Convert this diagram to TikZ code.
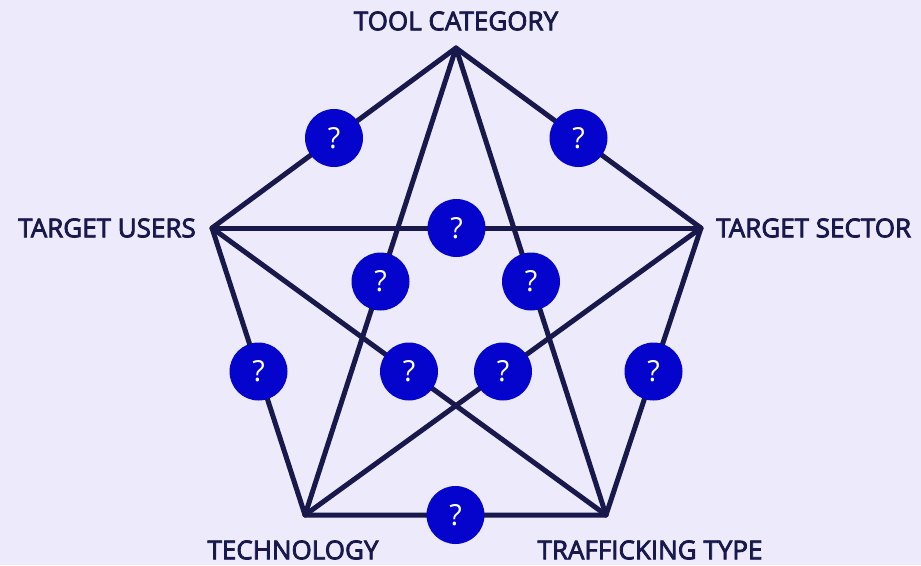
\documentclass[tikz,border=0pt]{standalone}
\usepackage{fontspec}
\setmainfont{Open Sans}
\newfontfamily\semifont[FakeBold=3]{Open Sans}
\usetikzlibrary{calc}
\definecolor{bgcol}{HTML}{ECEAFB}
\definecolor{linecol}{HTML}{18184C}
\definecolor{qcol}{HTML}{0404CC}
\tikzset{
    link/.style={line width=5pt,linecol,line cap=round,line join=round},
    qmark/.style={circle,fill=qcol,minimum size=58pt,inner sep=0pt,text=white,font=\fontsize{29}{32}\selectfont},
    corner/.style={text=linecol,font=\semifont\fontsize{26}{30}\selectfont,inner sep=0pt}
}
\begin{document}
\begin{tikzpicture}[x=1pt,y=-1pt]
    % background
    \fill[bgcol] (0,0) rectangle (921,565);
    \useasboundingbox (0,0) rectangle (921,565);
    % the five corners
    \coordinate (tool) at (456,48);
    \coordinate (users) at (212,228);
    \coordinate (sector) at (701,228);
    \coordinate (tech) at (305,515);
    \coordinate (traff) at (606,515);
    % the corner labels
    \node[corner] (ltool) at (456,21) {TOOL CATEGORY};
    \node[corner,anchor=east] (lusers) at (196,228) {TARGET USERS};
    \node[corner,anchor=west] (lsector) at (716,228) {TARGET SECTOR};
    \node[corner] (ltech) at (293,550) {TECHNOLOGY};
    \node[corner] (ltraff) at (650,550) {TRAFFICKING TYPE};
    % the outer pentagon
    \draw[link] (tool) -- (sector) -- (traff) -- (tech) -- (users) -- cycle;
    % the inner star
    \draw[link] (tool) -- (tech);
    \draw[link] (tool) -- (traff);
    \draw[link] (users) -- (sector);
    \draw[link] (users) -- (traff);
    \draw[link] (sector) -- (tech);
    % the question marks on the outer edges
    \node[qmark] (q1) at ($(tool)!.5!(users)$) {?};
    \node[qmark] (q2) at ($(tool)!.5!(sector)$) {?};
    \node[qmark] (q3) at ($(users)!.5!(tech)$) {?};
    \node[qmark] (q4) at ($(sector)!.5!(traff)$) {?};
    \node[qmark] (q5) at ($(tech)!.5!(traff)$) {?};
    % the question marks on the star
    \node[qmark] (q6) at ($(users)!.5!(sector)$) {?};
    \node[qmark] (q7) at ($(tool)!.5!(tech)$) {?};
    \node[qmark] (q8) at ($(tool)!.5!(traff)$) {?};
    \node[qmark] (q9) at ($(users)!.5!(traff)$) {?};
    \node[qmark] (q10) at ($(sector)!.5!(tech)$) {?};
\end{tikzpicture}
\end{document}
